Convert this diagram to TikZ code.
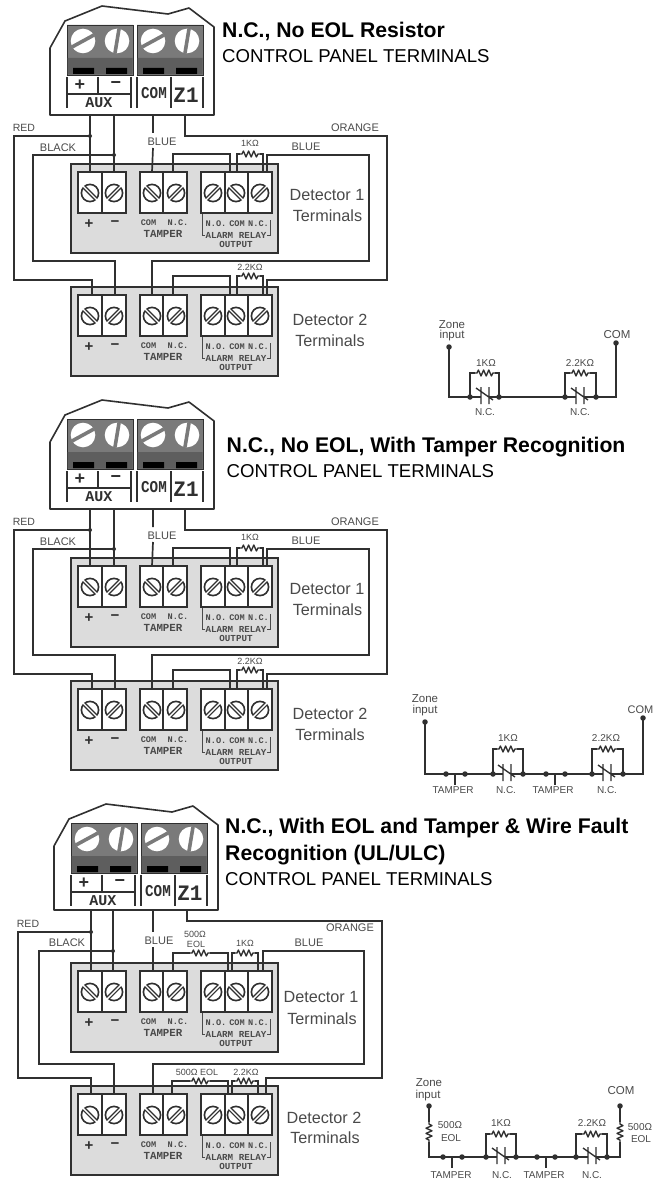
\documentclass[tikz,border=0pt]{standalone}
\usepackage{fontspec}
\setmainfont{Liberation Sans}
\setmonofont{Liberation Mono}
\definecolor{ink}{HTML}{303030}
\definecolor{lbl}{HTML}{4A4A4A}
\definecolor{blockgray}{HTML}{7A7A7A}
\definecolor{bandgray}{HTML}{5E5E5E}
\definecolor{boxgray}{HTML}{DCDCDC}
\newcommand\fpx[1]{\fontsize{#1pt}{#1pt}\selectfont}
\tikzset{
  wire/.style={draw=ink,line width=1.7pt,line join=miter},
  thin wire/.style={draw=ink,line width=1.35pt},
  wire label/.style={text=lbl,inner sep=0pt,font=\fpx{11}},
  detector label/.style={text=lbl,inner sep=0pt,font=\fpx{16.2}},
  heading/.style={anchor=base west,inner sep=0pt,font=\fpx{21.2}\bfseries,text=black},
  subheading/.style={anchor=base west,inner sep=0pt,font=\fpx{18.6},text=black},
  mono small/.style={text=lbl,inner sep=0pt,font=\ttfamily\bfseries\fpx{8.6}},
  mono mid/.style={text=lbl,inner sep=0pt,font=\ttfamily\bfseries\fpx{9.2}},
  mono big/.style={text=lbl,inner sep=0pt,font=\ttfamily\bfseries\fpx{10.8}},
  sign label/.style={text=ink,inner sep=0pt,font=\bfseries\fpx{15}},
  panel label/.style={text=ink,inner sep=0pt,font=\ttfamily\bfseries\fpx{15}},
  schem label/.style={text=lbl,inner sep=0pt,font=\fpx{10}},
  schem big/.style={text=lbl,inner sep=0pt,font=\fpx{11.5}},
  res label/.style={text=lbl,inner sep=0pt,font=\fpx{9}},
  resistor/.pic={\draw[thin wire,line join=round] (-10,0)--(-8,0)--(-6.6,-3)--(-4,3)--(-1.4,-3)--(1.2,3)--(3.8,-3)--(6.4,3)--(8,0)--(10,0);},
  jdot/.style={circle,fill=ink,inner sep=0pt,minimum size=5pt},
  sdot/.style={circle,fill=ink,inner sep=0pt,minimum size=5.5pt},
}
% big screw of the control panel
\newcommand\bigscrew[4]{% x, y, dx, dy of slot
  \fill[white] (#1,#2) circle[radius=12.3pt];
  \draw[blockgray,line width=3.6pt] (#1-#3,#2+#4)--(#1+#3,#2-#4);}
% small screw of a detector terminal
\newcommand\smallscrew[3]{% x, y, sign
  \draw[ink,line width=1.6pt,fill=white] (#1,#2) circle[radius=8.6pt];
  \draw[ink,line width=4pt] (#1-5.9,#2+5.9*#3)--(#1+5.9,#2-5.9*#3);
  \draw[white,line width=1.4pt] (#1-6.8,#2+6.8*#3)--(#1+6.8,#2-6.8*#3);}
% control panel; #1 = y of its lower edge
\newcommand\ctrlpanel[1]{%
  \draw[ink,line width=1.6pt,fill=white,line join=round] (50,#1)--(50,48)--(65,21)--(102,6)--(168,14)--(189,8)--(214,27)--(214,#1)--cycle;
  \fill[blockgray] (67,25) rectangle (133,75) (137,25) rectangle (203,75);
  \draw[ink,line width=.8pt] (67,25) rectangle (133,75) (137,25) rectangle (203,75);
  \fill[bandgray] (67.5,58) rectangle (132.5,74.5) (137.5,58) rectangle (202.5,74.5);
  \fill[black] (73,68) rectangle (94,74) (106,68) rectangle (127,74) (143,68) rectangle (164,74) (176,68) rectangle (197,74);
  \bigscrew{83}{41}{11}{6}\bigscrew{117}{41}{2}{12}
  \bigscrew{153}{41}{11}{6}\bigscrew{187}{41}{2}{12}
  \draw[ink,line width=1.1pt] (67,77)--(67,108) (98,77)--(98,94) (131,77)--(131,108) (67,94)--(131,94)
     (137,77)--(137,108) (171,77)--(171,108) (203,77)--(203,108);
  \node[sign label,font=\bfseries\fpx{18}] (plus) at (80,85) {+};
  \node[sign label,font=\bfseries\fpx{18}] (minus) at (116,85) {−};
  \node[panel label] (aux) at (99,103) {AUX};
  \node[panel label,xscale=.95,yscale=1.1] (com) at (154,93) {COM};
  \node[panel label,font=\ttfamily\bfseries\fpx{21},yscale=1.05] (z) at (186,95) {Z1};
}
% detector terminal block; #1 = y of the upper edge of its grey box
\newcommand\detector[1]{%
  \draw[ink,line width=1.6pt,fill=boxgray] (71,#1) rectangle (278,#1+89);
  \draw[ink,line width=1.6pt,fill=white] (78,#1+8) rectangle (126,#1+49) (140,#1+8) rectangle (187,#1+49) (201,#1+8) rectangle (272,#1+49);
  \draw[ink,line width=1.6pt] (102,#1+8)--(102,#1+49) (163,#1+8)--(163,#1+49) (225,#1+8)--(225,#1+49) (248,#1+8)--(248,#1+49);
  \smallscrew{90}{#1+29}{-1}\smallscrew{114}{#1+29}{1}\smallscrew{152}{#1+29}{-1}\smallscrew{176}{#1+29}{1}
  \smallscrew{213}{#1+29}{1}\smallscrew{236}{#1+29}{-1}\smallscrew{260}{#1+29}{1}
  \node[sign label] (plus) at (89,#1+60) {+};
  \node[sign label] (minus) at (115,#1+60) {−};
  \node[mono small] (tcom) at (148.5,#1+59) {COM};
  \node[mono small] (tnc) at (178,#1+59) {N.C.};
  \node[mono big] (tamper) at (163,#1+70) {TAMPER};
  \node[mono small] (ano) at (216,#1+60) {N.O.};
  \node[mono small] (acom) at (237,#1+60) {COM};
  \node[mono small] (anc) at (258.5,#1+60) {N.C.};
  \node[mono mid] (relay) at (236,#1+71) {ALARM RELAY};
  \node[mono mid] (output) at (236,#1+80.5) {OUTPUT};
  \draw[lbl,line width=.8pt] (202,#1+50)--(202,#1+71)--(205,#1+71) (270,#1+56)--(270,#1+71)--(267,#1+71);
}
% N.C. contact between two dots
\newcommand\contact[2]{%
  \draw[thin wire] (#1-4,#2-10)--(#1-4,#2+7) (#1+4,#2-10)--(#1+4,#2+7) (#1-9,#2-9)--(#1+8,#2+3);
}
% the wiring shared by the first two drawings
\newcommand\wiringAB{%
  \coordinate (pa) at (90,115); \coordinate (pb) at (114,115); \coordinate (pc) at (153,115); \coordinate (pd) at (185,115);
  \coordinate (da) at (90,172); \coordinate (db) at (114,172); \coordinate (dc) at (152,172); \coordinate (dd) at (173,172);
  \coordinate (de) at (230,172); \coordinate (df) at (237,172); \coordinate (dg) at (263,172); \coordinate (dh) at (267,172);
  \coordinate (ea) at (92,295); \coordinate (eb) at (115,295); \coordinate (ec) at (152,295); \coordinate (ed) at (173,295);
  \coordinate (ee) at (230,295); \coordinate (ef) at (237,295); \coordinate (eg) at (263,295); \coordinate (eh) at (267,295);
  \coordinate (gapa) at (153,133); \coordinate (gapb) at (153,148);
  \node[jdot,minimum size=4pt] (jred) at (90,136) {};
  \node[jdot,minimum size=4pt] (jblack) at (114,155) {};
  \draw[wire] (pa)--(da) (pb)--(db) (pc)--(gapa) (gapb)--(dc);
  \draw[wire] (jred.center)--(14,136)--(14,280)--(92,280)--(ea);
  \draw[wire] (jblack.center)--(33,155)--(33,261)--(115,261)--(eb);
  \draw[wire] (pd)--(185,136)--(387,136)--(387,280)--(267,280)--(eh);
  \draw[wire] (dh)--(267,155)--(369,155)--(369,261)--(152,261)--(ec);
  \draw[wire] (dd)--(173,154)--(230,154)--(de);
  \draw[wire] (ed)--(173,276)--(230,276)--(ee);
  \draw[wire] (df)--(237,154)--(240,154) (260,154)--(263,154)--(dg);
  \draw[wire] (ef)--(237,276)--(240,276) (260,276)--(263,276)--(eg);
  \pic at (250,154) {resistor}; \pic at (250,276) {resistor};
  \node[res label] (l1k) at (250,143) {1KΩ};
  \node[res label] (l22k) at (250,267) {2.2KΩ};
  \node[wire label,font=\fpx{10.5}] (lred) at (24,128) {RED};
  \node[wire label] (lblack) at (58,148) {BLACK};
  \node[wire label] (lblue) at (162,142) {BLUE};
  \node[wire label] (lorange) at (355,128) {ORANGE};
  \node[wire label] (lblueb) at (306,147) {BLUE};
  \node[detector label] (d1a) at (327,195) {Detector 1};
  \node[detector label] (d1b) at (327.5,216) {Terminals};
  \node[detector label] (d2a) at (330,320) {Detector 2};
  \node[detector label] (d2b) at (330,341) {Terminals};
}
\begin{document}
\begin{tikzpicture}[x=1pt,y=-1pt]
\useasboundingbox[fill=white] (0,0) rectangle (654,1180);
% ---------- first drawing
\begin{scope}[name prefix=a-]
  \detector{164}
  \begin{scope}[name prefix=a-b-]\detector{287}\end{scope}
  \wiringAB
  \begin{scope}[name prefix=a-c-]\ctrlpanel{115}\end{scope}
  \node[heading] (title) at (222,38) {N.C., No EOL Resistor};
  \node[subheading] (sub) at (222,63) {CONTROL PANEL TERMINALS};
\end{scope}
% ---------- second drawing
\begin{scope}[name prefix=b-,shift={(0,394)}]
  \detector{164}
  \begin{scope}[name prefix=b-b-]\detector{287}\end{scope}
  \wiringAB
  \begin{scope}[name prefix=b-c-]\ctrlpanel{115}\end{scope}
\end{scope}
\node[heading] (btitle) at (226.5,452) {N.C., No EOL, With Tamper Recognition};
\node[subheading] (bsub) at (226.5,477) {CONTROL PANEL TERMINALS};
% ---------- third drawing
\begin{scope}[name prefix=c-]
  \detector{963}
  \begin{scope}[name prefix=c-b-]\detector{1086}\end{scope}
  \coordinate (pa) at (91,910); \coordinate (pb) at (113,910); \coordinate (pc) at (153,910); \coordinate (pd) at (187,910);
  \coordinate (da) at (91,971); \coordinate (db) at (113,971); \coordinate (dc) at (153,971); \coordinate (dd) at (173,971);
  \coordinate (de) at (228,971); \coordinate (df) at (232,971); \coordinate (dg) at (258,971); \coordinate (dh) at (263,971);
  \coordinate (ea) at (91,1094); \coordinate (eb) at (114,1094); \coordinate (ec) at (153,1094); \coordinate (ed) at (172,1094);
  \coordinate (ee) at (228,1094); \coordinate (ef) at (232,1094); \coordinate (eg) at (258,1094); \coordinate (eh) at (266,1094);
  \coordinate (gapa) at (153,932); \coordinate (gapb) at (153,947);
  \node[jdot,minimum size=4pt] (jred) at (91,932) {};
  \node[jdot,minimum size=4pt] (jblack) at (113,951) {};
  \draw[wire] (pa)--(da) (pb)--(db) (pc)--(gapa) (gapb)--(dc);
  \draw[wire] (jred.center)--(18,932)--(18,1078)--(91,1078)--(ea);
  \draw[wire] (jblack.center)--(39,951)--(39,1064)--(114,1064)--(eb);
  \draw[wire] (pd)--(187,921)--(382,921)--(382,1078)--(266,1078)--(eh);
  \draw[wire] (dh)--(263,951)--(364,951)--(364,1064)--(153,1064)--(ec);
  \draw[wire] (dd)--(173,953)--(190,953) (210,953)--(228,953)--(de);
  \draw[wire] (df)--(232,953)--(235,953) (255,953)--(258,953)--(dg);
  \draw[wire] (ed)--(172,1081)--(190,1081) (210,1081)--(228,1081)--(ee);
  \draw[wire] (ef)--(232,1081)--(235,1081) (255,1081)--(258,1081)--(eg);
  \pic at (200,953) {resistor}; \pic at (245,953) {resistor};
  \pic at (200,1081) {resistor}; \pic at (245,1081) {resistor};
  \node[res label] (l500a) at (195,934) {500Ω};
  \node[res label] (leola) at (196,944) {EOL};
  \node[res label] (l1k) at (245,943) {1KΩ};
  \node[res label] (l500b) at (197,1072) {500Ω EOL};
  \node[res label] (l22k) at (246,1072) {2.2KΩ};
  \node[wire label,font=\fpx{10.5}] (lred) at (28,924) {RED};
  \node[wire label] (lblack) at (67,943) {BLACK};
  \node[wire label] (lblue) at (159,941) {BLUE};
  \node[wire label] (lorange) at (350,928) {ORANGE};
  \node[wire label] (lblueb) at (309,943) {BLUE};
  \node[detector label] (d1a) at (321,997) {Detector 1};
  \node[detector label] (d1b) at (322,1019) {Terminals};
  \node[detector label] (d2a) at (324,1118) {Detector 2};
  \node[detector label] (d2b) at (325,1138) {Terminals};
  \begin{scope}[name prefix=c-c-,shift={(4,798)}]\ctrlpanel{112}\end{scope}
\end{scope}
\node[heading] (ctitle) at (225,833) {N.C., With EOL and Tamper \& Wire Fault};
\node[heading] (ctitleb) at (225,860) {Recognition (UL/ULC)};
\node[subheading] (csub) at (225,885) {CONTROL PANEL TERMINALS};
% ---------- schematic 1
\begin{scope}[name prefix=s-]
  \node[schem big] (zone) at (452,325) {Zone};
  \node[schem big] (input) at (452,336) {input};
  \node[schem big] (com) at (617,335) {COM};
  \node[sdot] (zin) at (449,347) {};
  \node[sdot] (zcom) at (616,343) {};
  \node[sdot] (a) at (470,397) {}; \node[sdot] (b) at (499,397) {};
  \node[sdot] (c) at (565,397) {}; \node[sdot] (d) at (596,397) {};
  \draw[thin wire] (zin.center)--(449,397)--(a.center)--(481,397) (489,397)--(b.center)--(c.center)--(576,397) (584,397)--(d.center)--(616,397)--(zcom.center);
  \draw[thin wire] (a.center)--(470,373)--(475,373) (495,373)--(499,373)--(b.center);
  \draw[thin wire] (c.center)--(565,373)--(570,373) (590,373)--(596,373)--(d.center);
  \pic at (485,373) {resistor}; \pic at (580,373) {resistor};
  \contact{485}{397}\contact{580}{397}
  \node[schem label] (r1) at (486,363) {1KΩ};
  \node[schem label] (r2) at (580,363) {2.2KΩ};
  \node[schem label] (n1) at (485,412) {N.C.};
  \node[schem label] (n2) at (580,412) {N.C.};
\end{scope}
% ---------- schematic 2
\begin{scope}[name prefix=t-]
  \node[schem big] (zone) at (425,699) {Zone};
  \node[schem big] (input) at (425,711) {input};
  \node[schem big,font=\fpx{11}] (com) at (640.5,710) {COM};
  \node[sdot] (zin) at (425,722) {};
  \node[sdot] (zcom) at (643,718) {};
  \node[sdot] (ta) at (446,774) {}; \node[sdot] (tb) at (465,774) {};
  \node[sdot] (a) at (493,774) {}; \node[sdot] (b) at (523,774) {};
  \node[sdot] (tc) at (546,774) {}; \node[sdot] (td) at (565,774) {};
  \node[sdot] (c) at (592,774) {}; \node[sdot] (d) at (623,774) {};
  \draw[thin wire] (zin.center)--(425,774)--(ta.center) (tb.center)--(a.center)--(503,774) (511,774)--(b.center)--(tc.center) (td.center)--(c.center)--(603,774) (611,774)--(d.center)--(643,774)--(zcom.center);
  \draw[thin wire] (ta.center)--(tb.center) (tc.center)--(td.center);
  \draw[thin wire] (455,774)--(455,785) (555,774)--(555,785);
  \draw[thin wire] (a.center)--(493,749)--(497,749) (517,749)--(523,749)--(b.center);
  \draw[thin wire] (c.center)--(592,749)--(597,749) (617,749)--(623,749)--(d.center);
  \pic at (507,749) {resistor}; \pic at (607,749) {resistor};
  \contact{507}{774}\contact{607}{774}
  \node[schem label] (r1) at (508,738) {1KΩ};
  \node[schem label] (r2) at (606,738) {2.2KΩ};
  \node[schem label] (t1) at (453,790) {TAMPER};
  \node[schem label] (n1) at (506,790) {N.C.};
  \node[schem label] (t2) at (553,790) {TAMPER};
  \node[schem label] (n2) at (607,790) {N.C.};
\end{scope}
% ---------- schematic 3
\begin{scope}[name prefix=u-]
  \node[schem big] (zone) at (429,1083) {Zone};
  \node[schem big] (input) at (428,1096) {input};
  \node[schem big] (com) at (621,1091) {COM};
  \node[sdot] (zin) at (429,1106) {};
  \node[sdot] (zcom) at (620,1106) {};
  \node[sdot] (ta) at (443,1157) {}; \node[sdot] (tb) at (462,1157) {};
  \node[sdot] (a) at (486,1157) {}; \node[sdot] (b) at (516,1157) {};
  \node[sdot] (tc) at (537,1157) {}; \node[sdot] (td) at (555,1157) {};
  \node[sdot] (c) at (576,1157) {}; \node[sdot] (d) at (607,1157) {};
  \draw[thin wire] (zin.center)--(429,1122) (429,1142)--(429,1157)--(ta.center)--(tb.center)--(a.center)--(497,1157) (505,1157)--(b.center)--(tc.center)--(td.center)--(c.center)--(588,1157) (596,1157)--(d.center)--(620,1157)--(620,1142) (620,1122)--(zcom.center);
  \draw[thin wire] (452,1157)--(452,1168) (546,1157)--(546,1168);
  \draw[thin wire] (a.center)--(486,1134)--(490,1134) (510,1134)--(516,1134)--(b.center);
  \draw[thin wire] (c.center)--(576,1134)--(582,1134) (602,1134)--(607,1134)--(d.center);
  \pic at (500,1134) {resistor}; \pic at (592,1134) {resistor};
  \pic[rotate=90] at (429,1132) {resistor}; \pic[rotate=90] at (620,1132) {resistor};
  \contact{501}{1157}\contact{592}{1157}
  \node[schem label] (r0) at (450,1125) {500Ω};
  \node[schem label] (e0) at (451,1138) {EOL};
  \node[schem label] (r3) at (640,1127) {500Ω};
  \node[schem label] (e3) at (641,1139) {EOL};
  \node[schem label] (r1) at (501,1123) {1KΩ};
  \node[schem label] (r2) at (592,1123) {2.2KΩ};
  \node[schem label] (t1) at (451,1175) {TAMPER};
  \node[schem label] (n1) at (502,1175) {N.C.};
  \node[schem label] (t2) at (544,1175) {TAMPER};
  \node[schem label] (n2) at (592,1175) {N.C.};
\end{scope}
\end{tikzpicture}
\end{document}
